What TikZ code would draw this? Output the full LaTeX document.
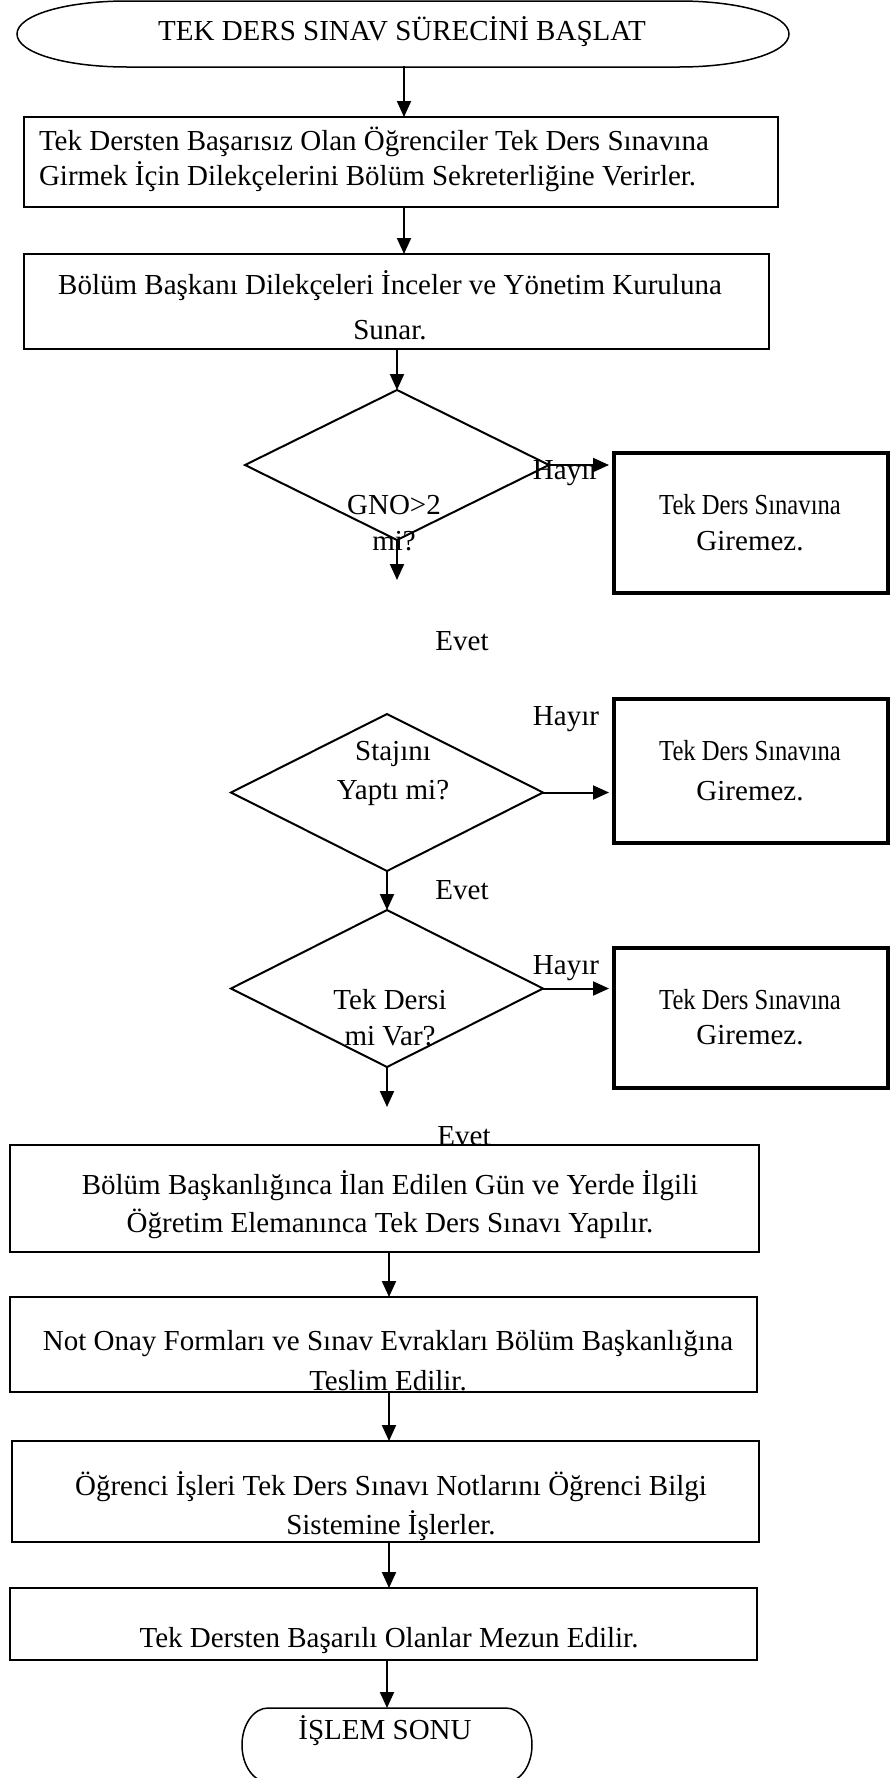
\documentclass[tikz,border=0pt]{standalone}
\usepackage{fontspec}
\setmainfont{Liberation Serif}
\usepackage{graphicx}
\usetikzlibrary{shapes.geometric,arrows.meta,calc}
\begin{document}
\begin{tikzpicture}[x=1pt,y=-1pt,
  every node/.style={inner sep=0pt, outer sep=0pt},
  txt/.style={align=center, font=\fontsize{29}{#1}\selectfont},
  txt/.default=36,
  procbox/.style 2 args={draw, line width=2pt, minimum width=#1, minimum height=#2},
  stopbox/.style 2 args={draw, line width=4pt, minimum width=#1, minimum height=#2},
  decision/.style 2 args={draw, shape=diamond, line width=2pt, minimum width=#1, minimum height=#2},
  ghost/.style 2 args={minimum width=#1, minimum height=#2},
  outline/.style={draw, line width=1.5pt},
  flow/.style={draw, line width=2pt, -{Triangle[length=16pt,width=14pt]}},
]
\useasboundingbox (0,0) rectangle (890,1778);
\fill[white] (0,0) rectangle (890,1778);
\clip (0,0) rectangle (890,1778);

% start terminal
\node[ghost={772}{66}, txt] (start) at (402,33) {\strut TEK DERS SINAV SÜRECİNİ BAŞLAT};
\draw[outline] (127,1) -- (679,1)
  .. controls (739.8,1) and (789,15) .. (789,34)
  .. controls (789,53) and (739.8,67) .. (679,67)
  -- (127,67)
  .. controls (66.2,67) and (17,53) .. (17,34)
  .. controls (17,15) and (66.2,1) .. (127,1) -- cycle;

% process boxes
\node[procbox={754}{90}] (b1) at (401,162) {};
\node[txt=35, align=left, anchor=west] (t1) at (39,161)
  {\strut Tek Dersten Başarısız Olan Öğrenciler Tek Ders Sınavına\\\strut Girmek İçin Dilekçelerini Bölüm Sekreterliğine Verirler.};

\node[procbox={745}{95}] (b2) at (396.5,301.5) {};
\node[txt=45] (t2) at (390,307.5)
  {\strut Bölüm Başkanı Dilekçeleri İnceler ve Yönetim Kuruluna\\\strut Sunar.};

% decisions
\node[decision={304}{150}] (d1) at (397,465) {};
\node[txt] (q1) at (394,525) {\strut GNO>2\\\strut mi?};
\node[stopbox={274}{140}] (r1) at (751,523) {};
\node[txt] (r1t) at (750,525) {\strut\scalebox{0.85}[1]{Tek Ders Sınavına}\\\strut Giremez.};

\node[decision={312}{157}] (d2) at (387,792.5) {};
\node[txt=39] (q2) at (393,772.5) {\strut Stajını\\\strut Yaptı mi?};
\node[stopbox={274}{144}] (r2) at (751,771) {};
\node[txt=40] (r2t) at (750,772) {\strut\scalebox{0.85}[1]{Tek Ders Sınavına}\\\strut Giremez.};

\node[decision={312}{157}] (d3) at (387,988.5) {};
\node[txt] (q3) at (390,1020) {\strut Tek Dersi\\\strut mi Var?};
\node[stopbox={274}{140}] (r3) at (751,1018) {};
\node[txt=35] (r3t) at (750,1019.5) {\strut\scalebox{0.85}[1]{Tek Ders Sınavına}\\\strut Giremez.};

% branch labels
\node[txt] (no1) at (566,472) {\strut Hayır};
\node[txt] (no2) at (566,718) {\strut Hayır};
\node[txt] (no3) at (566,967) {\strut Hayır};
\node[txt] (yes1) at (462,643) {\strut Evet};
\node[txt] (yes2) at (462,892) {\strut Evet};
\node[txt] (yes3) at (464,1138) {\strut Evet};

% lower process boxes
\node[procbox={749}{107}] (b3) at (384.5,1198.5) {};
\node[txt=38] (t3) at (390,1206)
  {\strut Bölüm Başkanlığınca İlan Edilen Gün ve Yerde İlgili\\\strut Öğretim Elemanınca Tek Ders Sınavı Yapılır.};
\node[procbox={747}{95}] (b4) at (383.5,1344.5) {};
\node[txt=40] (t4) at (388,1362)
  {\strut Not Onay Formları ve Sınav Evrakları Bölüm Başkanlığına\\\strut Teslim Edilir.};
\node[procbox={747}{101}] (b5) at (385.5,1491.5) {};
\node[txt=39] (t5) at (391,1507.5)
  {\strut Öğrenci İşleri Tek Ders Sınavı Notlarını Öğrenci Bilgi\\\strut Sistemine İşlerler.};
\node[procbox={747}{72}] (b6) at (383.5,1624) {};
\node[txt] (t6) at (389,1640) {\strut Tek Dersten Başarılı Olanlar Mezun Edilir.};

% end terminal
\node[ghost={290}{74}] (stop) at (387,1745) {};
\node[txt] (stoptext) at (385,1732) {\strut İŞLEM SONU};
\draw[outline] (268,1708) -- (506,1708)
  .. controls (520.4,1708) and (532,1724.6) .. (532,1745)
  .. controls (532,1765.4) and (520.4,1782) .. (506,1782)
  -- (268,1782)
  .. controls (253.6,1782) and (242,1765.4) .. (242,1745)
  .. controls (242,1724.6) and (253.6,1708) .. (268,1708) -- cycle;

% connectors
\coordinate (colA) at (404,0);
\coordinate (colB) at (389,0);
\coordinate (d1end) at (397,580);
\coordinate (d3end) at (387,1107);
\draw[flow] (start.south -| colA) -- (b1.north -| colA);
\draw[flow] (b1.south -| colA) -- (b2.north -| colA);
\draw[flow] (b2.south -| d1.north) -- (d1.north);
\draw[flow, shorten >=5pt] (d1.east) -- (d1.east -| r1.west);
\draw[flow] (d1.south) -- (d1end);
\draw[flow, shorten >=5pt] (d2.east) -- (d2.east -| r2.west);
\draw[flow] (d2.south) -- (d3.north);
\draw[flow, shorten >=5pt] (d3.east) -- (d3.east -| r3.west);
\draw[flow] (d3.south) -- (d3end);
\draw[flow] (b3.south -| colB) -- (b4.north -| colB);
\draw[flow] (b4.south -| colB) -- (b5.north -| colB);
\draw[flow] (b5.south -| colB) -- (b6.north -| colB);
\draw[flow] (b6.south -| stop.north) -- (stop.north);
\end{tikzpicture}
\end{document}
